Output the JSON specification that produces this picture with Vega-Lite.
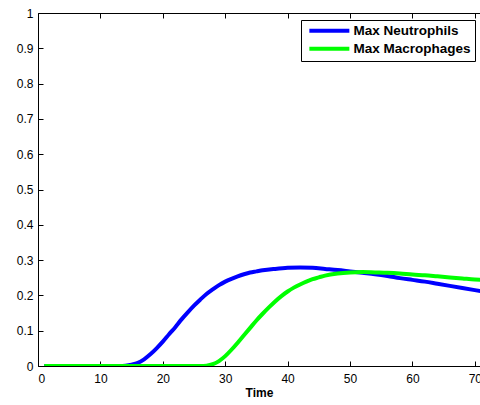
{
  "$schema": "https://vega.github.io/schema/vega-lite/v6.json",
  "autosize": "none",
  "width": 442,
  "height": 353,
  "padding": {"left": 38, "top": 13, "right": 0, "bottom": 39},
  "background": "white",
  "config": {
    "view": {"stroke": null},
    "font": "Liberation Sans",
    "axis": {
      "grid": false,
      "domainColor": "black",
      "domainWidth": 1,
      "tickColor": "black",
      "tickSize": -5,
      "labelColor": "black",
      "labelFont": "Liberation Sans",
      "labelFontSize": 12,
      "titleFont": "Liberation Sans",
      "titleFontSize": 12,
      "titleFontWeight": "bold",
      "titleColor": "black"
    }
  },
  "data": {
    "values": [
      {"t": 1, "v": 0, "s": "Max Neutrophils"},
      {"t": 13, "v": 0, "s": "Max Neutrophils"},
      {"t": 14, "v": 0.001, "s": "Max Neutrophils"},
      {"t": 15, "v": 0.004, "s": "Max Neutrophils"},
      {"t": 16, "v": 0.009, "s": "Max Neutrophils"},
      {"t": 17, "v": 0.019, "s": "Max Neutrophils"},
      {"t": 18, "v": 0.033, "s": "Max Neutrophils"},
      {"t": 19, "v": 0.05, "s": "Max Neutrophils"},
      {"t": 20, "v": 0.069, "s": "Max Neutrophils"},
      {"t": 21, "v": 0.09, "s": "Max Neutrophils"},
      {"t": 22, "v": 0.11, "s": "Max Neutrophils"},
      {"t": 23, "v": 0.132, "s": "Max Neutrophils"},
      {"t": 24, "v": 0.152, "s": "Max Neutrophils"},
      {"t": 25, "v": 0.171, "s": "Max Neutrophils"},
      {"t": 26, "v": 0.188, "s": "Max Neutrophils"},
      {"t": 27, "v": 0.204, "s": "Max Neutrophils"},
      {"t": 28, "v": 0.217, "s": "Max Neutrophils"},
      {"t": 29, "v": 0.229, "s": "Max Neutrophils"},
      {"t": 30, "v": 0.239, "s": "Max Neutrophils"},
      {"t": 31, "v": 0.247, "s": "Max Neutrophils"},
      {"t": 32, "v": 0.254, "s": "Max Neutrophils"},
      {"t": 33, "v": 0.26, "s": "Max Neutrophils"},
      {"t": 34, "v": 0.265, "s": "Max Neutrophils"},
      {"t": 35, "v": 0.268, "s": "Max Neutrophils"},
      {"t": 36, "v": 0.271, "s": "Max Neutrophils"},
      {"t": 38, "v": 0.275, "s": "Max Neutrophils"},
      {"t": 40, "v": 0.278, "s": "Max Neutrophils"},
      {"t": 42, "v": 0.279, "s": "Max Neutrophils"},
      {"t": 44, "v": 0.278, "s": "Max Neutrophils"},
      {"t": 46, "v": 0.275, "s": "Max Neutrophils"},
      {"t": 48, "v": 0.272, "s": "Max Neutrophils"},
      {"t": 50, "v": 0.268, "s": "Max Neutrophils"},
      {"t": 52, "v": 0.264, "s": "Max Neutrophils"},
      {"t": 54, "v": 0.26, "s": "Max Neutrophils"},
      {"t": 56, "v": 0.255, "s": "Max Neutrophils"},
      {"t": 58, "v": 0.249, "s": "Max Neutrophils"},
      {"t": 60, "v": 0.244, "s": "Max Neutrophils"},
      {"t": 62, "v": 0.239, "s": "Max Neutrophils"},
      {"t": 64, "v": 0.233, "s": "Max Neutrophils"},
      {"t": 66, "v": 0.227, "s": "Max Neutrophils"},
      {"t": 68, "v": 0.221, "s": "Max Neutrophils"},
      {"t": 70, "v": 0.215, "s": "Max Neutrophils"},
      {"t": 71, "v": 0.212, "s": "Max Neutrophils"},
      {"t": 1, "v": 0, "s": "Max Macrophages"},
      {"t": 26, "v": 0, "s": "Max Macrophages"},
      {"t": 27, "v": 0.001, "s": "Max Macrophages"},
      {"t": 28, "v": 0.005, "s": "Max Macrophages"},
      {"t": 29, "v": 0.014, "s": "Max Macrophages"},
      {"t": 30, "v": 0.028, "s": "Max Macrophages"},
      {"t": 31, "v": 0.046, "s": "Max Macrophages"},
      {"t": 32, "v": 0.066, "s": "Max Macrophages"},
      {"t": 33, "v": 0.087, "s": "Max Macrophages"},
      {"t": 34, "v": 0.108, "s": "Max Macrophages"},
      {"t": 35, "v": 0.129, "s": "Max Macrophages"},
      {"t": 36, "v": 0.148, "s": "Max Macrophages"},
      {"t": 37, "v": 0.166, "s": "Max Macrophages"},
      {"t": 38, "v": 0.183, "s": "Max Macrophages"},
      {"t": 39, "v": 0.198, "s": "Max Macrophages"},
      {"t": 40, "v": 0.211, "s": "Max Macrophages"},
      {"t": 41, "v": 0.222, "s": "Max Macrophages"},
      {"t": 42, "v": 0.231, "s": "Max Macrophages"},
      {"t": 43, "v": 0.239, "s": "Max Macrophages"},
      {"t": 44, "v": 0.246, "s": "Max Macrophages"},
      {"t": 45, "v": 0.251, "s": "Max Macrophages"},
      {"t": 46, "v": 0.256, "s": "Max Macrophages"},
      {"t": 48, "v": 0.262, "s": "Max Macrophages"},
      {"t": 50, "v": 0.265, "s": "Max Macrophages"},
      {"t": 52, "v": 0.266, "s": "Max Macrophages"},
      {"t": 54, "v": 0.265, "s": "Max Macrophages"},
      {"t": 56, "v": 0.264, "s": "Max Macrophages"},
      {"t": 58, "v": 0.262, "s": "Max Macrophages"},
      {"t": 60, "v": 0.259, "s": "Max Macrophages"},
      {"t": 62, "v": 0.257, "s": "Max Macrophages"},
      {"t": 64, "v": 0.254, "s": "Max Macrophages"},
      {"t": 66, "v": 0.251, "s": "Max Macrophages"},
      {"t": 68, "v": 0.248, "s": "Max Macrophages"},
      {"t": 70, "v": 0.245, "s": "Max Macrophages"},
      {"t": 71, "v": 0.244, "s": "Max Macrophages"}
    ]
  },
  "layer": [
    {
      "mark": {"type": "line", "strokeWidth": 4, "interpolate": "monotone", "clip": true},
      "encoding": {
        "x": {"field": "t", "type": "quantitative", "scale": {"domain": [0, 70.83], "nice": false},
              "axis": {"title": "Time", "values": [0, 10, 20, 30, 40, 50, 60, 70], "labelPadding": 12, "titlePadding": 3}},
        "y": {"field": "v", "type": "quantitative", "scale": {"domain": [0, 1], "nice": false},
              "axis": {"title": null, "format": "~g", "values": [0, 0.1, 0.2, 0.3, 0.4, 0.5, 0.6, 0.7, 0.8, 0.9, 1], "labelPadding": 10}},
        "color": {"field": "s", "type": "nominal",
                  "scale": {"domain": ["Max Neutrophils", "Max Macrophages"], "range": ["#0000ff", "#00ff00"]},
                  "legend": {"title": null, "orient": "none", "legendX": 263, "legendY": 7,
                             "strokeColor": "black", "fillColor": "white", "padding": 4,
                             "symbolType": "M-5,0L5,0", "symbolSize": 64, "symbolStrokeWidth": 4,
                             "symbolOffset": 17.6,
                             "labelFontSize": 13.5, "labelFontWeight": "bold", "labelColor": "black",
                             "labelFont": "Liberation Sans", "rowPadding": 1, "labelOffset": 17.3}}
      }
    },
    {
      "mark": {"type": "rule", "color": "black", "strokeWidth": 1},
      "encoding": {
        "x": {"field": "t", "type": "quantitative", "aggregate": "max",
              "axis": {"orient": "top", "labels": false, "title": null, "domain": true, "values": [0, 10, 20, 30, 40, 50, 60, 70]}},
        "opacity": {"value": 0}
      }
    }
  ],
  "resolve": {"axis": {"x": "independent"}}
}
